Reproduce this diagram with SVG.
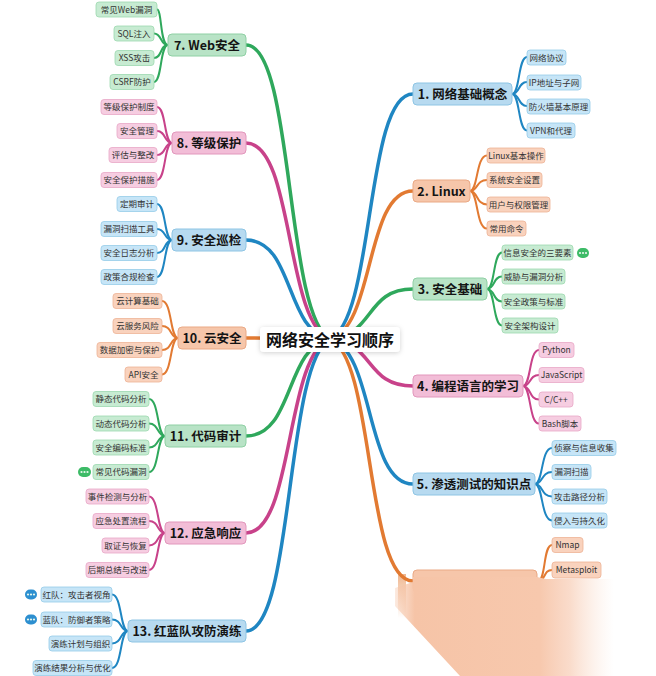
<svg xmlns="http://www.w3.org/2000/svg" width="656" height="676" viewBox="0 0 656 676">
<defs>
<style>
.t{font-family:"Noto Sans CJK SC","Noto Sans",sans-serif;text-anchor:middle}
.m{font-size:12.5px;font-weight:bold;fill:#141414}
.l{font-size:8.5px;fill:#333}
.r{font-size:16px;font-weight:bold;fill:#111}
.c{fill:none;stroke-linecap:round}
.k{stroke-width:3.5}
.s{stroke-width:2}
.cb{stroke:#1f86c2}.co{stroke:#e27a32}.cg{stroke:#2fa85c}.cp{stroke:#c8428a}
.mb{fill:#b7daf0;stroke:#8ec5e4}.mo{fill:#f6c6aa;stroke:#eaa985}.mg{fill:#b8e3c6;stroke:#8fd0a4}.mp{fill:#f2bdd7;stroke:#e297bc}
.lb{fill:#c6e5f7;stroke:#96cbe8}.lo{fill:#f9d2bd;stroke:#eeb395}.lg{fill:#c7ebd2;stroke:#9cd8ae}.lp{fill:#f6cde1;stroke:#e8a7c7}
.main rect{stroke-width:1}
.leaf rect{stroke-width:0.8}
.pg{fill:#3dbb67}.pb{fill:#2d8fd0}
.dot{fill:#e6f7ec}
</style>
<filter id="sh" x="-20%" y="-50%" width="140%" height="200%">
<feDropShadow dx="0" dy="1" stdDeviation="2.5" flood-color="#000" flood-opacity="0.18"/>
</filter>
<linearGradient id="fadeH" gradientUnits="userSpaceOnUse" x1="395" y1="0" x2="614" y2="0">
<stop offset="0" stop-color="#f6c4a7" stop-opacity="0.35"/>
<stop offset="0.09" stop-color="#f6c4a7" stop-opacity="1"/>
<stop offset="0.66" stop-color="#f7c8ad" stop-opacity="1"/>
<stop offset="0.8" stop-color="#f8d0ba" stop-opacity="0.75"/>
<stop offset="1" stop-color="#fbe3d5" stop-opacity="0"/>
</linearGradient>
<linearGradient id="fadeV" x1="0" y1="0" x2="0" y2="1">
<stop offset="0" stop-color="#e27a32" stop-opacity="0.9"/>
<stop offset="1" stop-color="#e27a32" stop-opacity="0"/>
</linearGradient>
</defs>
<rect width="656" height="676" fill="#ffffff"/>

<g id="connectors">
<path class="c k cb" d="M330 339C375 319.4 365 94 413 94"/>
<path class="c k co" d="M330 339C375 327.2 365 191 413 191"/>
<path class="c k cg" d="M330 339C375 335 365 289 413 289"/>
<path class="c k cp" d="M330 339C375 342.8 365 386 413 386"/>
<path class="c k cb" d="M330 339C375 350.6 365 484 413 484"/>
<path class="c k co" d="M330 339C375 358.4 365 581 413 581"/>
<path class="c k cg" d="M330 339C285 315.5 294 45 246 45"/>
<path class="c k cp" d="M330 339C285 323.3 294 143 246 143"/>
<path class="c k cb" d="M330 339C285 331.1 294 240 246 240"/>
<path class="c k co" d="M330 339C285 338.9 294 338 246 338"/>
<path class="c k cg" d="M330 339C285 346.8 294 436 246 436"/>
<path class="c k cp" d="M330 339C285 354.5 294 533 246 533"/>
<path class="c k cb" d="M330 339C285 362.4 294 631 246 631"/>
<path class="c s cb" d="M512 94C520 94 518 57 527 57"/>
<path class="c s cb" d="M512 94C520 94 518 82 527 82"/>
<path class="c s cb" d="M512 94C520 94 518 106 527 106"/>
<path class="c s cb" d="M512 94C520 94 518 130.5 527 130.5"/>
<path class="c s co" d="M470 191C478 191 476 155.5 487 155.5"/>
<path class="c s co" d="M470 191C478 191 476 180 487 180"/>
<path class="c s co" d="M470 191C478 191 476 204.5 487 204.5"/>
<path class="c s co" d="M470 191C478 191 476 228.5 487 228.5"/>
<path class="c s cg" d="M487 289C495 289 493 252.5 502 252.5"/>
<path class="c s cg" d="M487 289C495 289 493 276.5 502 276.5"/>
<path class="c s cg" d="M487 289C495 289 493 301.5 502 301.5"/>
<path class="c s cg" d="M487 289C495 289 493 325.5 502 325.5"/>
<path class="c s cp" d="M523 386C531 386 529 350 539 350"/>
<path class="c s cp" d="M523 386C531 386 529 375 539 375"/>
<path class="c s cp" d="M523 386C531 386 529 399.5 539 399.5"/>
<path class="c s cp" d="M523 386C531 386 529 423.5 539 423.5"/>
<path class="c s cb" d="M535 484C543 484 541 448 552 448"/>
<path class="c s cb" d="M535 484C543 484 541 472 552 472"/>
<path class="c s cb" d="M535 484C543 484 541 496.5 552 496.5"/>
<path class="c s cb" d="M535 484C543 484 541 520.5 552 520.5"/>
<path class="c s co" d="M538 581C546 581 543 545 552 545"/>
<path class="c s co" d="M538 581C546 581 543 570 552 570"/>
<path class="c s cg" d="M168 45C160 45 162 9.5 157 9.5"/>
<path class="c s cg" d="M168 45C160 45 162 33.5 154 33.5"/>
<path class="c s cg" d="M168 45C160 45 162 58 154 58"/>
<path class="c s cg" d="M168 45C160 45 162 82 154 82"/>
<path class="c s cp" d="M172 143C164 143 166 107 157 107"/>
<path class="c s cp" d="M172 143C164 143 166 131 157 131"/>
<path class="c s cp" d="M172 143C164 143 166 155 157 155"/>
<path class="c s cp" d="M172 143C164 143 166 180 157 180"/>
<path class="c s cb" d="M172 240C164 240 166 204 157 204"/>
<path class="c s cb" d="M172 240C164 240 166 229 157 229"/>
<path class="c s cb" d="M172 240C164 240 166 253 157 253"/>
<path class="c s cb" d="M172 240C164 240 166 277 157 277"/>
<path class="c s co" d="M178 338C170 338 172 301 162 301"/>
<path class="c s co" d="M178 338C170 338 172 326 162 326"/>
<path class="c s co" d="M178 338C170 338 172 350 162 350"/>
<path class="c s co" d="M178 338C170 338 172 374.5 162 374.5"/>
<path class="c s cg" d="M165 436C157 436 159 399 149 399"/>
<path class="c s cg" d="M165 436C157 436 159 423.5 149 423.5"/>
<path class="c s cg" d="M165 436C157 436 159 447.5 149 447.5"/>
<path class="c s cg" d="M165 436C157 436 159 472 149 472"/>
<path class="c s cp" d="M165 533C157 533 159 496.5 149 496.5"/>
<path class="c s cp" d="M165 533C157 533 159 521 149 521"/>
<path class="c s cp" d="M165 533C157 533 159 545.5 149 545.5"/>
<path class="c s cp" d="M165 533C157 533 159 570 149 570"/>
<path class="c s cb" d="M128 631C120 631 122 594.5 112 594.5"/>
<path class="c s cb" d="M128 631C120 631 122 619.5 112 619.5"/>
<path class="c s cb" d="M128 631C120 631 122 643.5 112 643.5"/>
<path class="c s cb" d="M128 631C120 631 122 668 112 668"/>
</g>

<g id="root">
<rect x="260" y="327" width="140" height="25" rx="4" fill="#ffffff" filter="url(#sh)"/>
<text class="t r" x="330" y="345.5">网络安全学习顺序</text>
</g>

<g id="n1" class="main"><rect class="mb" x="413" y="83" width="99" height="22" rx="4"/><text class="t m" x="462.5" y="98.5">1. 网络基础概念</text></g>
<g id="n2" class="main"><rect class="mo" x="413" y="180" width="57" height="22" rx="4"/><text class="t m" x="441.5" y="195.5">2. Linux</text></g>
<g id="n3" class="main"><rect class="mg" x="413" y="278" width="74" height="22" rx="4"/><text class="t m" x="450" y="293.5">3. 安全基础</text></g>
<g id="n4" class="main"><rect class="mp" x="413" y="375" width="110" height="22" rx="4"/><text class="t m" x="468" y="390.5">4. 编程语言的学习</text></g>
<g id="n5" class="main"><rect class="mb" x="413" y="473" width="122" height="22" rx="4"/><text class="t m" x="474" y="488.5">5. 渗透测试的知识点</text></g>

<g id="n7" class="main"><rect class="mg" x="168" y="34" width="78" height="22" rx="4"/><text class="t m" x="207" y="49.5">7. Web安全</text></g>
<g id="n8" class="main"><rect class="mp" x="172" y="132" width="74" height="22" rx="4"/><text class="t m" x="209" y="147.5">8. 等级保护</text></g>
<g id="n9" class="main"><rect class="mb" x="172" y="229" width="74" height="22" rx="4"/><text class="t m" x="209" y="244.5">9. 安全巡检</text></g>
<g id="n10" class="main"><rect class="mo" x="178" y="327" width="68" height="22" rx="4"/><text class="t m" x="212" y="342.5">10. 云安全</text></g>
<g id="n11" class="main"><rect class="mg" x="165" y="425" width="81" height="22" rx="4"/><text class="t m" x="205.5" y="440.5">11. 代码审计</text></g>
<g id="n12" class="main"><rect class="mp" x="165" y="522" width="81" height="22" rx="4"/><text class="t m" x="205.5" y="537.5">12. 应急响应</text></g>
<g id="n13" class="main"><rect class="mb" x="128" y="620" width="118" height="22" rx="4"/><text class="t m" x="187" y="635.5">13. 红蓝队攻防演练</text></g>

<g id="n1a" class="leaf"><rect class="lb" x="527" y="50" width="39" height="15" rx="3"/><text class="t l" x="546.5" y="60.5">网络协议</text></g>
<g id="n1b" class="leaf"><rect class="lb" x="527" y="75" width="54" height="15" rx="3"/><text class="t l" x="554" y="85.5">IP地址与子网</text></g>
<g id="n1c" class="leaf"><rect class="lb" x="527" y="99" width="63" height="15" rx="3"/><text class="t l" x="558.5" y="109.5">防火墙基本原理</text></g>
<g id="n1d" class="leaf"><rect class="lb" x="527" y="123" width="48" height="15" rx="3"/><text class="t l" x="551" y="133.5">VPN和代理</text></g>
<g id="n2a" class="leaf"><rect class="lo" x="487" y="148" width="58" height="15" rx="3"/><text class="t l" x="516" y="158.5">Linux基本操作</text></g>
<g id="n2b" class="leaf"><rect class="lo" x="487" y="172.5" width="55" height="15" rx="3"/><text class="t l" x="514.5" y="183">系统安全设置</text></g>
<g id="n2c" class="leaf"><rect class="lo" x="487" y="197" width="63" height="15" rx="3"/><text class="t l" x="518.5" y="207.5">用户与权限管理</text></g>
<g id="n2d" class="leaf"><rect class="lo" x="487" y="221" width="39" height="15" rx="3"/><text class="t l" x="506.5" y="231.5">常用命令</text></g>
<g id="n3a" class="leaf"><rect class="lg" x="502" y="245" width="71" height="15" rx="3"/><text class="t l" x="537.5" y="255.5">信息安全的三要素</text>
<rect class="pg" x="577" y="248" width="12" height="10" rx="5"/><circle class="dot" cx="580" cy="253" r="1.1"/><circle class="dot" cx="583" cy="253" r="1.1"/><circle class="dot" cx="586" cy="253" r="1.1"/></g>
<g id="n3b" class="leaf"><rect class="lg" x="502" y="269" width="63" height="15" rx="3"/><text class="t l" x="533.5" y="279.5">威胁与漏洞分析</text></g>
<g id="n3c" class="leaf"><rect class="lg" x="502" y="294" width="63" height="15" rx="3"/><text class="t l" x="533.5" y="304.5">安全政策与标准</text></g>
<g id="n3d" class="leaf"><rect class="lg" x="502" y="318" width="56" height="15" rx="3"/><text class="t l" x="530" y="328.5">安全架构设计</text></g>
<g id="n4a" class="leaf"><rect class="lp" x="539" y="342.5" width="35" height="15" rx="3"/><text class="t l" x="556.5" y="353">Python</text></g>
<g id="n4b" class="leaf"><rect class="lp" x="539" y="367.5" width="45" height="15" rx="3"/><text class="t l" x="561.5" y="378">JavaScript</text></g>
<g id="n4c" class="leaf"><rect class="lp" x="539" y="392" width="34" height="15" rx="3"/><text class="t l" x="556" y="402.5">C/C++</text></g>
<g id="n4d" class="leaf"><rect class="lp" x="539" y="416" width="42" height="15" rx="3"/><text class="t l" x="560" y="426.5">Bash脚本</text></g>
<g id="n5a" class="leaf"><rect class="lb" x="552" y="440.5" width="64" height="15" rx="3"/><text class="t l" x="584" y="451">侦察与信息收集</text></g>
<g id="n5b" class="leaf"><rect class="lb" x="552" y="464.5" width="39" height="15" rx="3"/><text class="t l" x="571.5" y="475">漏洞扫描</text></g>
<g id="n5c" class="leaf"><rect class="lb" x="552" y="489" width="55" height="15" rx="3"/><text class="t l" x="579.5" y="499.5">攻击路径分析</text></g>
<g id="n5d" class="leaf"><rect class="lb" x="552" y="513" width="55" height="15" rx="3"/><text class="t l" x="579.5" y="523.5">侵入与持久化</text></g>
<g id="n6a" class="leaf"><rect class="lo" x="552" y="537.5" width="31" height="15" rx="3"/><text class="t l" x="567.5" y="548">Nmap</text></g>
<g id="n6b" class="leaf"><rect class="lo" x="552" y="562" width="49" height="16" rx="3"/><text class="t l" x="576.5" y="573">Metasploit</text></g>

<g id="n6" class="main">
<rect class="mo" x="413" y="570" width="124" height="22" rx="4"/>
<rect x="398" y="574" width="8" height="44" fill="url(#fadeV)" opacity="0.6"/>
<polygon points="395,588 413,582 413,577 537,577 546,579 614,579 614,676 460,676 395,606" fill="url(#fadeH)"/>
</g>

<g id="n7a" class="leaf"><rect class="lg" x="96" y="2" width="61" height="15" rx="3"/><text class="t l" x="126.5" y="12.5">常见Web漏洞</text></g>
<g id="n7b" class="leaf"><rect class="lg" x="114" y="26" width="40" height="15" rx="3"/><text class="t l" x="134" y="36.5">SQL注入</text></g>
<g id="n7c" class="leaf"><rect class="lg" x="115" y="50.5" width="39" height="15" rx="3"/><text class="t l" x="134.5" y="61">XSS攻击</text></g>
<g id="n7d" class="leaf"><rect class="lg" x="110" y="74.5" width="44" height="15" rx="3"/><text class="t l" x="132" y="85">CSRF防护</text></g>
<g id="n8a" class="leaf"><rect class="lp" x="101" y="99.5" width="56" height="15" rx="3"/><text class="t l" x="129" y="110">等级保护制度</text></g>
<g id="n8b" class="leaf"><rect class="lp" x="117" y="123.5" width="40" height="15" rx="3"/><text class="t l" x="137" y="134">安全管理</text></g>
<g id="n8c" class="leaf"><rect class="lp" x="109" y="147.5" width="48" height="15" rx="3"/><text class="t l" x="133" y="158">评估与整改</text></g>
<g id="n8d" class="leaf"><rect class="lp" x="101" y="172.5" width="56" height="15" rx="3"/><text class="t l" x="129" y="183">安全保护措施</text></g>
<g id="n9a" class="leaf"><rect class="lb" x="117" y="196.5" width="40" height="15" rx="3"/><text class="t l" x="137" y="207">定期审计</text></g>
<g id="n9b" class="leaf"><rect class="lb" x="101" y="221.5" width="56" height="15" rx="3"/><text class="t l" x="129" y="232">漏洞扫描工具</text></g>
<g id="n9c" class="leaf"><rect class="lb" x="101" y="245.5" width="56" height="15" rx="3"/><text class="t l" x="129" y="256">安全日志分析</text></g>
<g id="n9d" class="leaf"><rect class="lb" x="101" y="269.5" width="56" height="15" rx="3"/><text class="t l" x="129" y="280">政策合规检查</text></g>
<g id="n10a" class="leaf"><rect class="lo" x="113" y="293.5" width="49" height="15" rx="3"/><text class="t l" x="137.5" y="304">云计算基础</text></g>
<g id="n10b" class="leaf"><rect class="lo" x="113" y="318.5" width="49" height="15" rx="3"/><text class="t l" x="137.5" y="329">云服务风险</text></g>
<g id="n10c" class="leaf"><rect class="lo" x="97" y="342.5" width="65" height="15" rx="3"/><text class="t l" x="129.5" y="353">数据加密与保护</text></g>
<g id="n10d" class="leaf"><rect class="lo" x="125" y="367" width="37" height="15" rx="3"/><text class="t l" x="143.5" y="377.5">API安全</text></g>
<g id="n11a" class="leaf"><rect class="lg" x="93" y="391.5" width="56" height="15" rx="3"/><text class="t l" x="121" y="402">静态代码分析</text></g>
<g id="n11b" class="leaf"><rect class="lg" x="93" y="416" width="56" height="15" rx="3"/><text class="t l" x="121" y="426.5">动态代码分析</text></g>
<g id="n11c" class="leaf"><rect class="lg" x="93" y="440" width="56" height="15" rx="3"/><text class="t l" x="121" y="450.5">安全编码标准</text></g>
<g id="n11d" class="leaf"><rect class="lg" x="93" y="464.5" width="56" height="15" rx="3"/><text class="t l" x="121" y="475">常见代码漏洞</text>
<rect class="pg" x="78" y="467" width="13" height="10" rx="5"/><circle class="dot" cx="81.5" cy="472" r="1.1"/><circle class="dot" cx="84.5" cy="472" r="1.1"/><circle class="dot" cx="87.5" cy="472" r="1.1"/></g>
<g id="n12a" class="leaf"><rect class="lp" x="86" y="489" width="63" height="15" rx="3"/><text class="t l" x="117.5" y="499.5">事件检测与分析</text></g>
<g id="n12b" class="leaf"><rect class="lp" x="93" y="513.5" width="56" height="15" rx="3"/><text class="t l" x="121" y="524">应急处置流程</text></g>
<g id="n12c" class="leaf"><rect class="lp" x="102" y="538" width="47" height="15" rx="3"/><text class="t l" x="125.5" y="548.5">取证与恢复</text></g>
<g id="n12d" class="leaf"><rect class="lp" x="86" y="562.5" width="63" height="15" rx="3"/><text class="t l" x="117.5" y="573">后期总结与改进</text></g>
<g id="n13a" class="leaf"><rect class="lb" x="41" y="587" width="71" height="15" rx="3"/><text class="t l" x="76.5" y="597.5">红队：攻击者视角</text>
<rect class="pb" x="25" y="589.5" width="12" height="10" rx="5"/><circle class="dot" cx="28" cy="594.5" r="1.1"/><circle class="dot" cx="31" cy="594.5" r="1.1"/><circle class="dot" cx="34" cy="594.5" r="1.1"/></g>
<g id="n13b" class="leaf"><rect class="lb" x="41" y="612" width="71" height="15" rx="3"/><text class="t l" x="76.5" y="622.5">蓝队：防御者策略</text>
<rect class="pb" x="25" y="614.5" width="12" height="10" rx="5"/><circle class="dot" cx="28" cy="619.5" r="1.1"/><circle class="dot" cx="31" cy="619.5" r="1.1"/><circle class="dot" cx="34" cy="619.5" r="1.1"/></g>
<g id="n13c" class="leaf"><rect class="lb" x="49" y="636" width="63" height="15" rx="3"/><text class="t l" x="80.5" y="646.5">演练计划与组织</text></g>
<g id="n13d" class="leaf"><rect class="lb" x="33" y="660.5" width="79" height="15" rx="3"/><text class="t l" x="72.5" y="671">演练结果分析与优化</text></g>
</svg>
